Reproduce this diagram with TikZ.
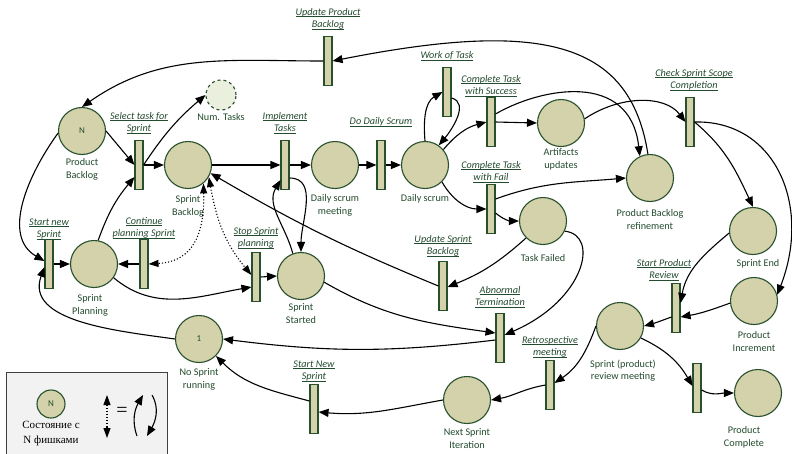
\documentclass[tikz,border=0pt]{standalone}
\usepackage{fontspec}
\setmainfont{Carlito}
\newfontfamily\legendfont{Liberation Serif}
\usetikzlibrary{arrows.meta}

\definecolor{placefill}{RGB}{211,210,170}
\definecolor{placeline}{RGB}{40,80,45}
\definecolor{labelgreen}{RGB}{35,75,45}
\definecolor{tokenfill}{RGB}{235,239,222}
\definecolor{legendfill}{RGB}{242,242,242}

\newcommand\tul[1]{\underline{\smash{#1}}\vphantom{#1}}

\tikzset{
  place/.style={circle, draw=placeline, fill=placefill, line width=1.1pt,
    minimum size=47pt, inner sep=0pt, text=labelgreen,
    font=\fontsize{9}{10}\selectfont},
  trans/.style={rectangle, draw=placeline, fill=placefill, line width=1.1pt,
    minimum width=8pt, minimum height=49pt, inner sep=0pt},
  plabel/.style={text=labelgreen, align=center, inner sep=1pt,
    font=\fontsize{10.2}{12.5}\selectfont},
  tlabel/.style={text=labelgreen, align=center, inner sep=1pt,
    font=\fontsize{10.2}{12.5}\selectfont\itshape},
  arc/.style={-{Triangle[length=10pt,width=8pt]}, line width=1.1pt},
  readarc/.style={{Triangle[length=10pt,width=7pt]}-{Triangle[length=10pt,width=7pt]},
    line width=1.1pt, dotted}
}

\begin{document}
\begin{tikzpicture}[x=1pt,y=-1pt]
\useasboundingbox (0,0) rectangle (792,453);

% legend
\draw[draw=black!75, fill=legendfill, line width=0.8pt] (6,372) rectangle (167,470);
\node[place, minimum size=28pt] (lgPlace) at (51,404) {N};
\node[font=\legendfont\fontsize{11}{15}\selectfont, align=center] (lgText) at (51,434) {Состояние с\\N фишками};
\coordinate (lgTop) at (107,395);
\coordinate (lgBot) at (107,438);
\draw[readarc] (lgTop) -- (lgBot);
\node[font=\legendfont\fontsize{20}{20}\selectfont] (lgEq) at (122,412) {=};
\coordinate (lgA) at (137,436);
\coordinate (lgB) at (143,395);
\coordinate (lgC) at (152,395);
\coordinate (lgD) at (147,436);
\draw[arc] (lgA) to[out=110,in=240] (lgB);
\draw[arc] (lgC) to[out=-60,in=60] (lgD);

% places
\node[place, label={[plabel,yshift=-2.5pt]below:{Product\\Backlog}}] (pb) at (82,131) {N};
\node[place, fill=tokenfill, dashed, minimum size=30pt,
  label={[plabel,yshift=-1.5pt]below:{Num. Tasks}}] (nt) at (221,95) {};
\node[place, label={[plabel,yshift=-5.5pt]below:{Sprint\\Backlog}}] (sb) at (188,165) {};
\node[place, label={[plabel,yshift=-4.5pt]below:{Daily scrum\\meeting}}] (dsm) at (335,165) {};
\node[place, label={[plabel,yshift=-4.5pt]below:{Daily scrum}}] (ds) at (425,165) {};
\node[place, label={[plabel,yshift=-0.5pt]below:{Artifacts\\updates}}] (au) at (561,123) {};
\node[place, label={[plabel,yshift=-6.5pt]below:{Product Backlog\\refinement}}] (pbr) at (650,178) {};
\node[place, label={[plabel,yshift=-8.5pt]below:{Task Failed}}] (tf) at (543,221) {};
\node[place, label={[plabel,yshift=-3.5pt,xshift=5pt]below:{Sprint End}}] (se) at (753,231) {};
\node[place, label={[plabel,yshift=-5.5pt]below:{Product\\Increment}}] (pi) at (754,301) {};
\node[place, label={[plabel,yshift=-8.5pt,xshift=3pt]below:{Sprint (product)\\review meeting}}] (srm) at (620,326) {};
\node[place, label={[plabel,yshift=-8.5pt,xshift=-14pt]below:{Product\\Complete}}] (pc) at (758,393) {};
\node[place, label={[plabel,yshift=-3.5pt]below:{Next Sprint\\Iteration}}] (nsi) at (467,400) {};
\node[place, label={[plabel,yshift=-4.5pt]below:{No Sprint\\running}}] (nsr) at (199,339) {1};
\node[place, label={[plabel,yshift=-5.5pt,xshift=-4pt]below:{Sprint\\Planning}}] (sp) at (94,264) {};
\node[place, label={[plabel,yshift=-2.5pt]below:{Sprint\\Started}}] (ss) at (301,276) {};

% transitions
\node[trans, label={[tlabel,yshift=5pt]above:{\tul{Select task for}\\\tul{Sprint}}}] (tSelect) at (139,165) {};
\node[trans, label={[tlabel,yshift=5pt]above:{\tul{Update Product}\\\tul{Backlog}}}] (tUPB) at (328,61) {};
\node[trans, label={[tlabel,yshift=5pt]above:{\tul{Implement}\\\tul{Tasks}}}] (tImpl) at (285,165) {};
\node[trans, label={[tlabel,yshift=12pt]above:{\tul{Do Daily Scrum}}}] (tDDS) at (381,165) {};
\node[trans, label={[tlabel,yshift=5pt]above:{\tul{Work of Task}}}] (tWork) at (447,92) {};
\node[trans, label={[tlabel,yshift=-1pt]above:{\tul{Complete Task}\\\tul{with Success}}}] (tSucc) at (491,122) {};
\node[trans, label={[tlabel,yshift=0pt]above:{\tul{Complete Task}\\\tul{with Fail}}}] (tFail) at (491,209) {};
\node[trans, label={[tlabel,yshift=5pt,xshift=4pt]above:{\tul{Check Sprint Scope}\\\tul{Completion}}}] (tCheck) at (690,122) {};
\node[trans, label={[tlabel,yshift=3pt]above:{\tul{Update Sprint}\\\tul{Backlog}}}] (tUSB) at (443,286) {};
\node[trans, label={[tlabel,yshift=1pt,xshift=-12pt]above:{\tul{Start Product}\\\tul{Review}}}] (tSPR) at (676,308) {};
\node[trans, label={[tlabel,yshift=4pt]above:{\tul{Abnormal}\\\tul{Termination}}}] (tAbn) at (500,338) {};
\node[trans, label={[tlabel,yshift=1pt]above:{\tul{Retrospective}\\\tul{meeting}}}] (tRetro) at (550,385) {};
\node[trans, label={[tlabel,yshift=1pt]above:{\tul{Start New}\\\tul{Sprint}}}] (tNew) at (314,409) {};
\node[trans] (tPC) at (697,388) {};
\node[trans, label={[tlabel,yshift=-2pt]above:{\tul{Start new}\\\tul{Sprint}}}] (tStart) at (49,264) {};
\node[trans, label={[tlabel,yshift=-1pt]above:{\tul{Continue}\\\tul{planning Sprint}}}] (tCont) at (144,264) {};
\node[trans, label={[tlabel,yshift=2pt]above:{\tul{Stop Sprint}\\\tul{planning}}}] (tStop) at (256,277) {};

% arcs
\draw[arc] (pb.east) -- (tSelect.west);
\draw[arc] (tSelect.east) -- (sb.west);
\draw[arc] (tSelect.east) to[bend left=8] (nt.west);
\draw[arc] (sp.80) to[bend left=10] ([yshift=-12pt]tSelect.west);
\draw[arc] (sb.east) -- (tImpl.west);
\draw[arc] (tImpl.east) -- (dsm.west);
\draw[arc] (ss.110) to[out=105,in=240] ([yshift=-15pt]tImpl.west);
\draw[arc] ([yshift=-13pt]tImpl.east) to[out=0,in=90] (ss.north);
\draw[arc] (dsm.east) -- (tDDS.west);
\draw[arc] (tDDS.east) -- (ds.west);
\draw[arc] (ds.north) to[out=95,in=210] (tWork.west);
\draw[arc] ([yshift=-6pt]tWork.east) to[out=-15,in=50] (ds.55);
\draw[arc] (ds.40) to[out=50,in=195] (tSucc.west);
\draw[arc] (tSucc.east) -- (au.west);
\draw[arc] ([yshift=8pt]tSucc.east) .. controls (540,88) and (630,70) .. (pbr.115);
\draw[arc] (au.10) .. controls (620,95) and (665,95) .. (tCheck.west);
\draw[arc] (pbr.95) .. controls (630,40) and (540,20) .. (tUPB.east);
\draw[arc] (tUPB.west) to[out=180,in=35] (pb.north);
\draw[arc] (ds.-45) to[out=-60,in=180] (tFail.west);
\draw[arc] ([yshift=10pt]tFail.east) to[out=20,in=185] (pbr.west);
\draw[arc] ([yshift=-4pt]tFail.east) to[out=-40,in=180] (tf.west);
\draw[arc] (tf.225) to[bend left=10] ([yshift=-1pt]tUSB.east);
\draw[arc] (tUSB.west) to[bend left=4] (sb.-20);
\draw[arc] (tf.-25) .. controls (600,235) and (585,300) .. ([yshift=3pt]tAbn.east);
\draw[arc] (ss.-15) to[out=-30,in=172] ([yshift=5pt]tAbn.west);
\draw[arc] ([yshift=-2pt]tAbn.west) to[bend left=7] (nsr.east);
\draw[arc] (nsr.west) to[out=172,in=-110] ([yshift=-3pt]tStart.west);
\draw[arc] (pb.185) to[out=234,in=150] ([yshift=3pt]tStart.west);
\draw[arc] (tStart.east) -- (sp.west);
\draw[arc] (tCont.west) -- (sp.east);
\draw[readarc] (sb.-50) .. controls (205,245) and (185,262) .. (tCont.east);
\draw[readarc] (sb.-30) to[out=-80,in=130] ([yshift=2pt]tStop.west);
\draw[arc] (sp.-35) to[out=-40,in=190] ([yshift=-10pt]tStop.west);
\draw[arc] (tStop.east) -- (ss.west);
\draw[arc] (tCheck.east) to[out=-40,in=115] (se.north);
\draw[arc] (tCheck.east) .. controls (775,120) and (812,205) .. (pi.15);
\draw[arc] (se.185) to[out=220,in=80] ([yshift=5pt]tSPR.east);
\draw[arc] (pi.185) to[out=200,in=10] ([yshift=-9pt]tSPR.east);
\draw[arc] ([yshift=-9pt]tSPR.west) to[out=200,in=15] (srm.east);
\draw[arc] (srm.west) to[out=-110,in=34] ([yshift=2pt]tRetro.east);
\draw[arc] (srm.-30) to[out=-25,in=120] ([yshift=2pt]tPC.west);
\draw[arc] ([yshift=-2pt]tPC.east) to[out=-30,in=180] (pc.west);
\draw[arc] (tRetro.west) to[out=190,in=10] (nsi.east);
\draw[arc] (nsi.west) to[out=190,in=-5] ([yshift=-3pt]tNew.east);
\draw[arc] ([yshift=8pt]tNew.west) to[out=165,in=-45] (nsr.-45);
\end{tikzpicture}
\end{document}
